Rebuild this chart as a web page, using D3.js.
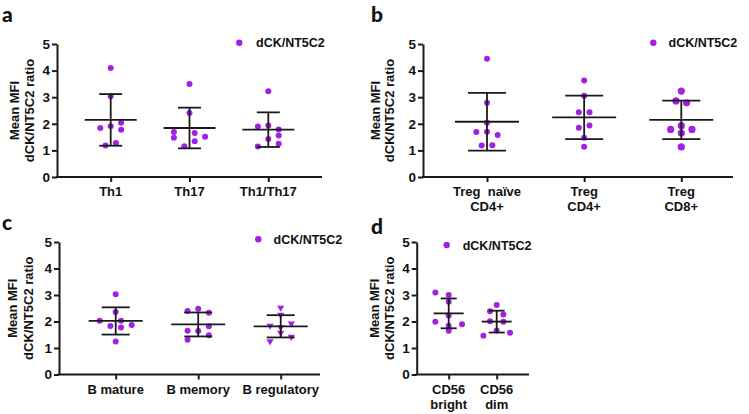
<!DOCTYPE html>
<html><head><meta charset="utf-8">
<script src="https://cdn.jsdelivr.net/npm/d3@7"></script>
<style>
body{margin:0;background:#fff;}
text{font-family:"Liberation Sans",Arial,sans-serif;font-weight:bold;fill:#111;}
</style></head><body>
<svg id="c" width="749" height="414"></svg>
<script>
// ---------- data ----------
const yTicks = [0,1,2,3,4,5];
const seriesName = "dCK/NT5C2";
const yLabelLines = ["Mean MFI","dCK/NT5C2 ratio"];

const catsA = [["Th1"],["Th17"],["Th1/Th17"]];
const valsA = [
  [4.10,3.04,1.84,1.91,2.04,1.78,1.28,1.18],
  [3.50,2.41,1.69,1.48,1.65,1.51,1.34,1.16],
  [3.22,1.90,1.94,1.79,1.56,1.43,1.25,1.15]
];
const colsA = [
  [0,0,-2,0,2,2,1,-1],
  [0,0,-3,-3,1,3,1,-1],
  [0,-2,0,2,2,0,2,-2]
];

const catsB = [["Treg  naïve","CD4+"],["Treg","CD4+"],["Treg","CD8+"]];
const valsB = [
  [4.45,2.79,2.04,1.69,1.70,1.58,1.18,1.19],
  [3.63,3.05,2.43,2.43,1.85,1.94,1.48,1.14],
  [3.23,2.86,2.79,1.79,1.93,1.79,1.65,1.13]
];
const colsB = [
  [0,0,0,-2,0,2,-1,1],
  [0,0,-1,1,-1,1,0,0],
  [0,-1,1,-2,0,2,0,0]
];

const catsC = [["B mature"],["B memory"],["B regulatory"]];
const valsC = [
  [3.03,2.36,2.03,2.03,1.83,1.77,1.87,1.25],
  [2.40,2.48,2.33,1.65,1.64,1.82,1.48,1.31],
  [2.52,2.25,1.84,1.78,1.92,1.57,1.42,1.25]
];
const colsC = [
  [0,0,-3,1,-1,1,3,0],
  [-2,0,2,-2,0,2,2,-2],
  [0,0,-2,0,2,0,2,-2]
];
const shapesC = ["circle","circle","triangleDown"];

const catsD = [["CD56","bright"],["CD56","dim"]];
const valsD = [
  [3.09,3.00,2.75,2.23,1.99,1.90,1.84,1.65],
  [2.62,2.39,2.26,2.01,1.99,1.66,1.46,1.58]
];
const colsD = [
  [-2,0,0,0,-2,2,0,0],
  [0,-1,1,-1,1,0,-2,2]
];

// ---------- layout ----------
const purple = "#a21fe4";
const ink = "#1a1a1a";
const panels = [
  {letter:"a", lx:2, ly:21.5, cats:catsA, vals:valsA, cols:colsA, shapes:null, radii:[3,3,3],
   x0:57, x1:322, yb:177, yt:44, c0:110.7, c1:268.3, unit:5.2, meanW:52, capW:23,
   leg:[239.3,42.7], legT:256, yl:[18.5,33.5]},
  {letter:"b", lx:371, ly:21.5, cats:catsB, vals:valsB, cols:colsB, shapes:null, radii:[3,3,3.6],
   x0:423, x1:733, yb:177, yt:44, c0:487, c1:681.3, unit:5.33, meanW:64, capW:38,
   leg:[653.3,42.7], legT:668.5, yl:[379.5,394]},
  {letter:"c", lx:2, ly:230, cats:catsC, vals:valsC, cols:colsC, shapes:shapesC, radii:[3,3,3],
   x0:59, x1:320, yb:374.5, yt:242, c0:115.7, c1:280.7, unit:5.33, meanW:54, capW:28,
   leg:[258.3,239.3], legT:273.5, yl:[17,32.5]},
  {letter:"d", lx:371, ly:234, cats:catsD, vals:valsD, cols:colsD, shapes:null, radii:[3,3],
   x0:416.7, x1:529, yb:374.5, yt:242, c0:448.7, c1:496.7, unit:6.67, meanW:30, capW:16,
   leg:[446.7,245], legT:462.7, yl:[378.5,393.5]}
];

const svg = d3.select("#c");

panels.forEach(p => {
  const g = svg.append("g");
  const y = d3.scaleLinear().domain([0,5]).range([p.yb,p.yt]);
  const x = d3.scalePoint().domain(p.cats.map((c,i)=>i)).range([p.c0,p.c1]);
  const off = d3.scaleLinear().domain([0,1]).range([0,p.unit]);

  // panel letter
  g.append("text").attr("x",p.lx).attr("y",p.ly).text(p.letter)
    .style("font-family","Lato, 'Open Sans', sans-serif").style("font-size","21px").style("font-weight","900");

  // y axis
  const ya = g.append("g").attr("transform",`translate(${p.x0},0)`)
    .call(d3.axisLeft(y).tickValues(yTicks).tickFormat(d3.format("d")).tickSize(5).tickSizeOuter(0).tickPadding(2));
  ya.select(".domain").attr("stroke",ink).attr("stroke-width",2);
  ya.selectAll(".tick line").attr("stroke",ink).attr("stroke-width",2);
  ya.selectAll(".tick text").style("font-size","13.5px").style("font-family","'Liberation Sans',Arial,sans-serif").style("font-weight","bold").attr("fill","#111");

  // x axis
  const xa = g.append("g").attr("transform",`translate(0,${p.yb})`)
    .call(d3.axisBottom(x).tickSize(5).tickSizeOuter(0).tickFormat(""));
  xa.select(".domain").remove();
  xa.selectAll(".tick line").attr("stroke",ink).attr("stroke-width",2);
  g.append("line").attr("x1",p.x0-1).attr("x2",p.x1).attr("y1",p.yb).attr("y2",p.yb)
    .attr("stroke",ink).attr("stroke-width",2);
  p.cats.forEach((lines,i) => {
    const t = g.append("text").attr("text-anchor","middle").style("font-size","13px").style("white-space","pre");
    lines.forEach((ln,j) => {
      t.append("tspan").attr("x",x(i)).attr("y",p.yb+19+j*15).text(ln);
    });
  });

  // y label
  yLabelLines.forEach((ln,j) => {
    g.append("text").attr("transform",`translate(${p.yl[j]},${(p.yb+p.yt)/2}) rotate(-90)`)
      .attr("text-anchor","middle").style("font-size","13px").text(ln);
  });

  // points
  p.vals.forEach((vs,i) => {
    const shape = p.shapes ? p.shapes[i] : "circle";
    const r = p.radii[i];
    vs.forEach((v,k) => {
      const cx = x(i) + off(p.cols[i][k]);
      const cy = y(v);
      if (shape === "circle") {
        g.append("circle").attr("cx",cx).attr("cy",cy).attr("r",r).attr("fill",purple);
      } else {
        g.append("path").attr("d",d3.symbol(d3.symbolTriangle, 22)())
          .attr("transform",`translate(${cx},${cy}) rotate(180)`).attr("fill",purple);
      }
    });
  });

  // mean ± SD
  p.vals.forEach((vs,i) => {
    const m = d3.mean(vs), sd = d3.deviation(vs);
    const cx = x(i);
    const eg = g.append("g").attr("stroke",ink).attr("stroke-width",1.8);
    eg.append("line").attr("x1",cx-p.meanW/2).attr("x2",cx+p.meanW/2).attr("y1",y(m)).attr("y2",y(m));
    eg.append("line").attr("x1",cx).attr("x2",cx).attr("y1",y(m+sd)).attr("y2",y(m-sd));
    [m+sd,m-sd].forEach(e => eg.append("line").attr("x1",cx-p.capW/2).attr("x2",cx+p.capW/2).attr("y1",y(e)).attr("y2",y(e)));
  });

  // legend
  g.append("circle").attr("cx",p.leg[0]).attr("cy",p.leg[1]).attr("r",3.2).attr("fill",purple);
  g.append("text").attr("x",p.legT).attr("y",p.leg[1]+4.6).style("font-size","12.5px").text(seriesName);
});
</script>
</body></html>
